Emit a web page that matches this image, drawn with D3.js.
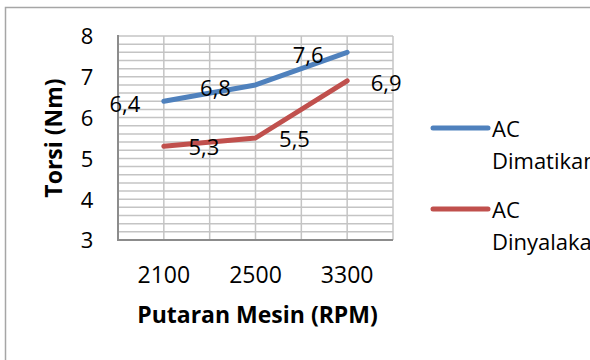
<!DOCTYPE html>
<html>
<head>
<meta charset="utf-8">
<script src="https://cdn.jsdelivr.net/npm/d3@7/dist/d3.min.js"></script>
<style>
  html, body { margin: 0; padding: 0; background: #fff; }
  svg { display: block; }
  text { font-family: "Open Sans", "Noto Sans", sans-serif; fill: #000; }
</style>
</head>
<body>
<svg id="chart" width="590" height="360"></svg>
<script>
// Engine speed categories (RPM)
const categories = ["2100", "2500", "3300"];
// Torque values (Nm)
const acOff = [6.4, 6.8, 7.6];
const acOn = [5.3, 5.5, 6.9];
const seriesNames = [["AC", "Dimatikan"], ["AC", "Dinyalakan"]];
const yTicks = [3, 4, 5, 6, 7, 8];

const series = [
  { name: seriesNames[0], values: acOff, color: "#4F81BD" },
  { name: seriesNames[1], values: acOn, color: "#C0504D" }
];

// Where each value label sits relative to its point
const labelPlacement = [
  [{ dx: -39, dy: 3 }, { dx: -40, dy: 3 }, { dx: -39, dy: 3 }],
  [{ dx: 40, dy: 1 }, { dx: 39, dy: 1 }, { dx: 39, dy: 2 }]
];

const svg = d3.select("#chart");
const plot = { left: 118, right: 393, top: 36, bottom: 240 };

// Outer chart frame (runs past the visible edge)
svg.append("rect")
  .attr("x", 5.5).attr("y", 7.5)
  .attr("width", 640).attr("height", 420)
  .attr("fill", "none").attr("stroke", "#a6a6a6").attr("stroke-width", 1.5);

const x = d3.scaleBand().domain(categories).range([plot.left, plot.right]).padding(0);
const y = d3.scaleLinear().domain([3, 8]).range([plot.bottom, plot.top]);
const cx = d => x(d) + x.bandwidth() / 2;

const grid = svg.append("g");
// Horizontal gridlines every 0.2 Nm
grid.selectAll("line.h")
  .data(y.ticks(25))
  .join("line")
  .attr("x1", plot.left).attr("x2", plot.right)
  .attr("y1", d => y(d)).attr("y2", d => y(d))
  .attr("stroke", "#c4c4c4").attr("stroke-width", 1.5);

// Vertical gridlines at category edges and centres
const vx = [];
categories.forEach(c => { vx.push(x(c)); vx.push(cx(c)); });
vx.push(plot.right);
grid.selectAll("line.v")
  .data(vx)
  .join("line")
  .attr("x1", d => d).attr("x2", d => d)
  .attr("y1", plot.top).attr("y2", plot.bottom)
  .attr("stroke", "#c4c4c4").attr("stroke-width", 1.5);

// Axis lines
svg.append("line")
  .attr("x1", plot.left).attr("x2", plot.left)
  .attr("y1", plot.top - 1).attr("y2", plot.bottom + 1)
  .attr("stroke", "#8c8c8c").attr("stroke-width", 2);
svg.append("line")
  .attr("x1", plot.left).attr("x2", plot.right)
  .attr("y1", plot.bottom).attr("y2", plot.bottom)
  .attr("stroke", "#8c8c8c").attr("stroke-width", 2);

// Y axis labels
const yAxis = d3.axisLeft(y).tickValues(yTicks).tickSize(0).tickPadding(25).tickFormat(d3.format("d"));
const gy = svg.append("g").attr("transform", `translate(${plot.left},0)`).call(yAxis);
gy.select(".domain").remove();
gy.selectAll("text")
  .attr("font-family", "'Open Sans', sans-serif").attr("font-size", 22)
  .attr("text-anchor", "middle").attr("x", -31).attr("dy", "0.36em");

// X axis labels
const xAxis = d3.axisBottom(x).tickSize(0).tickPadding(0);
const gx = svg.append("g").attr("transform", `translate(0,${plot.bottom})`).call(xAxis);
gx.select(".domain").remove();
gx.selectAll("text")
  .attr("font-family", "'Open Sans', sans-serif").attr("font-size", 23)
  .attr("y", 43).attr("dy", 0);

// Axis titles
svg.append("text")
  .attr("transform", `translate(62,${(plot.top + plot.bottom) / 2}) rotate(-90)`)
  .attr("text-anchor", "middle")
  .attr("font-size", 23).attr("font-weight", "bold")
  .text("Torsi (Nm)");
svg.append("text")
  .attr("x", (plot.left + plot.right) / 2 + 2).attr("y", 323)
  .attr("text-anchor", "middle")
  .attr("font-size", 23).attr("font-weight", "bold")
  .text("Putaran Mesin (RPM)");

// Series lines
const line = d3.line().x((d, i) => cx(categories[i])).y(d => y(d));
series.forEach((s, si) => {
  svg.append("path")
    .datum(s.values)
    .attr("d", line)
    .attr("fill", "none")
    .attr("stroke", s.color).attr("stroke-width", 5)
    .attr("stroke-linecap", "round").attr("stroke-linejoin", "round");

  svg.append("g").selectAll("text")
    .data(s.values)
    .join("text")
    .attr("x", (d, i) => cx(categories[i]) + labelPlacement[si][i].dx)
    .attr("y", (d, i) => y(d) + labelPlacement[si][i].dy)
    .attr("dy", "0.36em")
    .attr("text-anchor", "middle")
    .attr("font-size", 22)
    .text(d => d3.format(".1f")(d).replace(".", ","));
});

// Legend
const legend = svg.append("g").attr("transform", "translate(433,128)");
series.forEach((s, si) => {
  const g = legend.append("g").attr("transform", `translate(0,${si * 81})`);
  g.append("line")
    .attr("x1", 0).attr("x2", 55)
    .attr("stroke", s.color).attr("stroke-width", 5).attr("stroke-linecap", "round");
  g.append("text")
    .attr("x", 59).attr("y", 9)
    .attr("font-size", 22)
    .selectAll("tspan")
    .data(s.name)
    .join("tspan")
    .attr("x", 59)
    .attr("dy", (d, i) => i === 0 ? 0 : 31.5)
    .text(d => d);
});
</script>
</body>
</html>
